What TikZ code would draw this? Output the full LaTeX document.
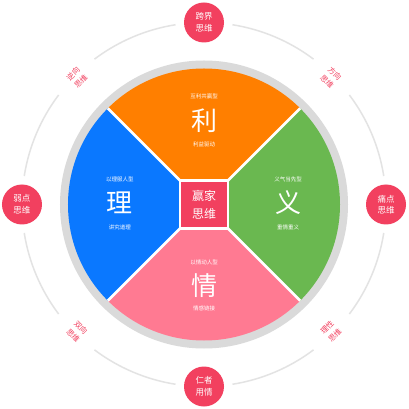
\documentclass[tikz,border=0pt]{standalone}
\usepackage{fontspec}
\newfontfamily\cjk{Noto Sans CJK SC}
\definecolor{cOrange}{HTML}{FF7F00}
\definecolor{cBlue}{HTML}{0A78FF}
\definecolor{cGreen}{HTML}{6AB850}
\definecolor{cPink}{HTML}{FF7A92}
\definecolor{cRed}{HTML}{F2405F}
\definecolor{cRing}{HTML}{DADADA}
\definecolor{cThin}{HTML}{E3E3E3}
\begin{document}
\begin{tikzpicture}[x=1pt,y=1pt,
  bigchar/.style={text=white,font=\cjk\fontsize{26}{28}\selectfont,inner sep=0},
  smalltxt/.style={text=white,font=\cjk\fontsize{5.5}{6}\selectfont,inner sep=0},
  outer/.style={circle,fill=cRed,minimum size=40pt,inner sep=0,text=white,align=center,font=\cjk\fontsize{8.5}{11.5}\selectfont},
  diag/.style={text=cRed,font=\cjk\fontsize{7.5}{9}\selectfont,inner sep=0},
  sepline/.style={white,line width=2.5pt},
  thinring/.style={cThin,line width=1.5pt}]
\useasboundingbox (-204,-204.5) rectangle (204,204.5);
\fill[white] (-204,-204.5) rectangle (204,204.5);
% thin outer ring, broken at circles and labels
\foreach \a/\b in {9/37,53/81,99/127,143/171,189/217,233/261,279/307,323/351}
  \draw[thinring] (\a:182) arc[start angle=\a,end angle=\b,radius=182];
% gray ring
\fill[cRing] (0,0) circle (144);
% coordinates
\coordinate (ne) at (24,24);
\coordinate (se) at (24,-24);
\coordinate (sw) at (-24,-24);
\coordinate (nw) at (-24,24);
\coordinate (ne2) at (200,200);
\coordinate (se2) at (200,-200);
\coordinate (sw2) at (-200,-200);
\coordinate (nw2) at (-200,200);
\begin{scope}
\clip (0,0) circle (136);
\fill[cOrange] (nw) -- (ne) -- (ne2) -- (nw2) -- cycle;
\fill[cGreen] (ne) -- (se) -- (se2) -- (ne2) -- cycle;
\fill[cPink] (se) -- (sw) -- (sw2) -- (se2) -- cycle;
\fill[cBlue] (sw) -- (nw) -- (nw2) -- (sw2) -- cycle;
\draw[sepline] (ne) -- (ne2);
\draw[sepline] (se) -- (se2);
\draw[sepline] (sw) -- (sw2);
\draw[sepline] (nw) -- (nw2);
\end{scope}
\node[rectangle,fill=cRed,draw=white,line width=2.5pt,minimum size=48pt,inner sep=0,
  text=white,align=center,font=\cjk\fontsize{12}{18}\selectfont] (core) at (0,0) {赢家\\思维};
% sector texts
\node[smalltxt] (li1) at (0,108) {互利共赢型};
\node[bigchar] (li) at (0,84) {利};
\node[smalltxt] (li2) at (0,60) {利益驱动};
\node[smalltxt] (lh1) at (-84,25) {以理服人型};
\node[bigchar] (lh) at (-84,2) {理};
\node[smalltxt] (lh2) at (-84,-23) {讲究道理};
\node[smalltxt] (yi1) at (84,25) {义气当先型};
\node[bigchar] (yi) at (84,2) {义};
\node[smalltxt] (yi2) at (84,-23) {重情重义};
\node[smalltxt] (qg1) at (0,-58) {以情动人型};
\node[bigchar] (qg) at (0,-81) {情};
\node[smalltxt] (qg2) at (0,-104) {情感链接};
% outer circles
\node[outer] (top) at (0,182) {跨界\\思维};
\node[outer] (left) at (-182,0) {弱点\\思维};
\node[outer] (right) at (182,0) {痛点\\思维};
\node[outer] (bottom) at (0,-182) {仁者\\用情};
% diagonal labels, one node per line
\node[diag,rotate=45] (ula) at (135:185) {逆向};
\node[diag,rotate=45] (ulb) at (135:174) {思维};
\node[diag,rotate=-45] (ura) at (45:185) {方向};
\node[diag,rotate=-45] (urb) at (45:174) {思维};
\node[diag,rotate=-45] (lla) at (225:174) {双向};
\node[diag,rotate=-45] (llb) at (225:185) {思维};
\node[diag,rotate=45] (lra) at (315:174) {理性};
\node[diag,rotate=45] (lrb) at (315:185) {思维};
\end{tikzpicture}
\end{document}
